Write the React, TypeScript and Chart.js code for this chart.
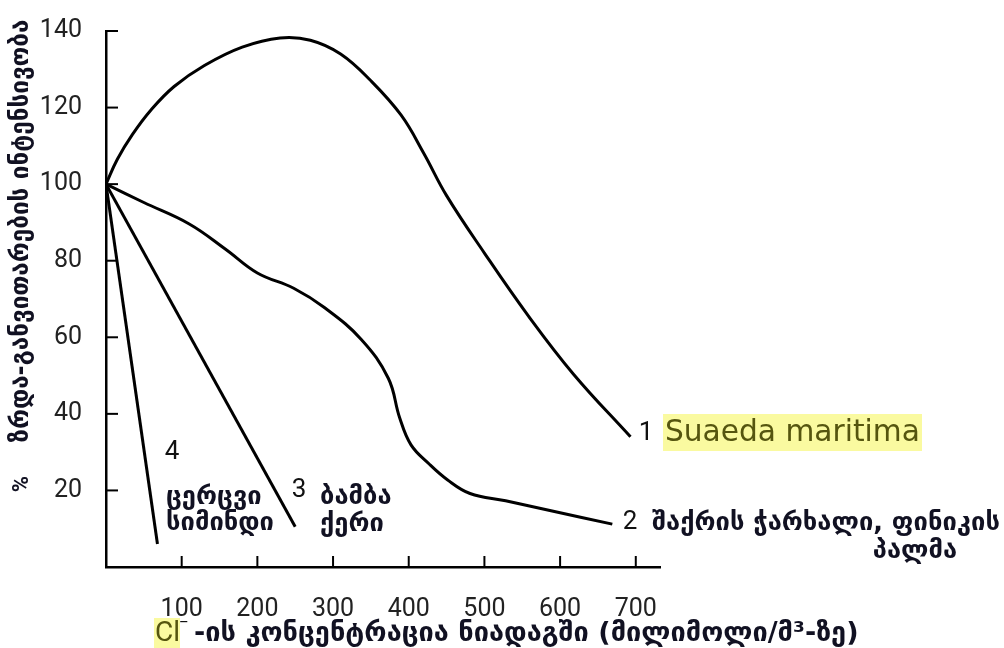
import React, { useEffect, useRef } from 'react';
import { Chart, registerables } from 'chart.js';

Chart.register(...registerables);

// ---- data ----
const xTickValues = [100, 200, 300, 400, 500, 600, 700];
const yTickValues = [20, 40, 60, 80, 100, 120, 140];

// 1 Suaeda maritima
const suaedaX = [0, 15, 35, 60, 90, 130, 180, 230, 270, 310, 350, 390, 420, 450, 500, 558, 618, 693];
const suaedaY = [100, 106.5, 113, 119.5, 125.5, 131, 135.8, 138.2, 137.6, 134, 127, 118, 108, 97, 82, 65.6, 50.3, 34];

// 2 sugar beet, date palm
const beetX = [0, 50, 110, 158, 200, 248, 289, 337, 373, 388, 403, 427, 451, 481, 528, 588, 669];
const beetY = [100, 95.2, 89.6, 83, 76.8, 72.8, 67.7, 59.5, 49.3, 39, 31.9, 26.9, 22.8, 19.2, 17.3, 14.7, 11.2];

// 3 cotton, barley
const cottonX = [0, 250];
const cottonY = [100, 10.5];

// 4 vetch, maize
const vetchX = [0, 68];
const vetchY = [100, 6];

const yTitle = 'ზრდა-განვითარების ინტენსივობა';
const xTitleRest = '-ის კონცენტრაცია ნიადაგში (მილიმოლი/მ³-ზე)';

const toPts = (xs: number[], ys: number[]) => xs.map((x, i) => ({ x, y: ys[i] }));

const GEO = '"DejaVu Sans", sans-serif';
const NUM = 'Roboto, "DejaVu Sans", sans-serif';
const INK = '#111122';
const OLIVE = '#55550f';
const HILITE = '#fafaa0';

function fitSize(ctx: CanvasRenderingContext2D, text: string, family: string, weight: string, target: number) {
  ctx.font = `${weight} 20px ${family}`;
  const w = ctx.measureText(text).width;
  return (20 * target) / w;
}

const annotationPlugin = {
  id: 'annotations',
  afterDraw(chart: any) {
    const ctx: CanvasRenderingContext2D = chart.ctx;
    const xs = chart.scales.x;
    const ys = chart.scales.y;
    const area = chart.chartArea;
    ctx.save();
    // inward tick marks
    ctx.strokeStyle = '#000';
    ctx.lineWidth = 2;
    yTickValues.forEach((v) => {
      const py = ys.getPixelForValue(v);
      ctx.beginPath();
      ctx.moveTo(area.left, py);
      ctx.lineTo(area.left + 12, py);
      ctx.stroke();
    });
    xTickValues.forEach((v) => {
      const px = xs.getPixelForValue(v);
      ctx.beginPath();
      ctx.moveTo(px, area.bottom);
      ctx.lineTo(px, area.bottom - 11);
      ctx.stroke();
    });

    // Georgian label font size (common)
    const labelSize = fitSize(ctx, 'შაქრის ჭარხალი, ფინიკის', GEO, 'bold', 348);
    const geoFont = `bold ${labelSize}px ${GEO}`;

    ctx.textBaseline = 'middle';

    // curve numbers
    ctx.fillStyle = '#111';
    ctx.font = `26px ${NUM}`;
    ctx.textAlign = 'center';
    ctx.fillText('4', 172, 452);
    ctx.fillText('3', 299, 490);
    ctx.fillText('1', 646, 433);
    ctx.fillText('2', 630, 522);

    // Georgian labels
    ctx.font = geoFont;
    ctx.fillStyle = INK;
    ctx.textAlign = 'left';
    ctx.fillText('ცერცვი', 166, 497);
    ctx.fillText('სიმინდი', 166, 523);
    ctx.fillText('ბამბა', 320, 497);
    ctx.fillText('ქერი', 320, 524);
    ctx.fillText('შაქრის ჭარხალი, ფინიკის', 652, 523);
    ctx.textAlign = 'center';
    ctx.fillText('პალმა', 915, 551);

    // Suaeda maritima highlighted
    ctx.fillStyle = HILITE;
    ctx.fillRect(663, 414, 259, 37);
    ctx.fillStyle = OLIVE;
    ctx.textAlign = 'left';
    const sSize = fitSize(ctx, 'Suaeda maritima', '"DejaVu Sans", sans-serif', 'normal', 255);
    ctx.font = `${sSize}px "DejaVu Sans", sans-serif`;
    ctx.fillText('Suaeda maritima', 665, 433);

    // y axis title (rotated)
    const tSize = fitSize(ctx, yTitle, GEO, 'bold', 423);
    ctx.save();
    ctx.translate(22, 231);
    ctx.rotate(-Math.PI / 2);
    ctx.font = `bold ${tSize}px ${GEO}`;
    ctx.fillStyle = INK;
    ctx.textAlign = 'center';
    ctx.fillText(yTitle, 0, 0);
    ctx.restore();
    ctx.save();
    ctx.translate(22, 484);
    ctx.rotate(-Math.PI / 2);
    ctx.font = `bold 22px ${NUM}`;
    ctx.fillStyle = INK;
    ctx.textAlign = 'center';
    ctx.fillText('%', 0, 0);
    ctx.restore();

    // x axis title
    ctx.fillStyle = HILITE;
    ctx.fillRect(154, 618, 26, 30);
    ctx.fillStyle = OLIVE;
    ctx.textAlign = 'left';
    ctx.font = `28px ${NUM}`;
    ctx.fillText('Cl', 155, 634);
    ctx.fillStyle = '#111';
    ctx.font = `bold 18px "DejaVu Sans", sans-serif`;
    ctx.fillText('⁻', 179, 626);
    const xSize = fitSize(ctx, xTitleRest, GEO, 'bold', 665);
    ctx.font = `bold ${xSize}px ${GEO}`;
    ctx.fillStyle = INK;
    ctx.fillText(xTitleRest, 194, 634);

    ctx.restore();
  },
};

export default function App() {
  const canvasRef = useRef<HTMLCanvasElement | null>(null);

  useEffect(() => {
    const canvas = canvasRef.current;
    if (!canvas) return;
    const lineStyle = {
      borderColor: '#000',
      borderWidth: 3,
      pointRadius: 0,
      fill: false,
    };
    const chart = new Chart(canvas, {
      type: 'line',
      data: {
        datasets: [
          { ...lineStyle, label: '1', data: toPts(suaedaX, suaedaY), tension: 0.4 },
          { ...lineStyle, label: '2', data: toPts(beetX, beetY), tension: 0.4 },
          { ...lineStyle, label: '3', data: toPts(cottonX, cottonY), tension: 0 },
          { ...lineStyle, label: '4', data: toPts(vetchX, vetchY), tension: 0 },
        ],
      },
      options: {
        animation: false,
        responsive: false,
        maintainAspectRatio: false,
        layout: { padding: { left: 0, right: 344, top: 22, bottom: 0 } },
        plugins: {
          legend: { display: false },
          tooltip: { enabled: false },
        },
        scales: {
          x: {
            type: 'linear',
            min: 0,
            max: 732,
            grid: { display: false },
            border: { display: true, color: '#000', width: 2.5 },
            afterBuildTicks: (s: any) => {
              s.ticks = xTickValues.map((v) => ({ value: v }));
            },
            afterFit: (s: any) => {
              s.height = 648 - 567;
            },
            ticks: {
              color: '#222',
              font: { family: NUM, size: 25 },
              padding: 20,
              maxRotation: 0,
              autoSkip: false,
            },
          },
          y: {
            type: 'linear',
            min: 0,
            max: 140,
            grid: { display: false },
            border: { display: true, color: '#000', width: 2.5 },
            afterBuildTicks: (s: any) => {
              s.ticks = yTickValues.map((v) => ({ value: v }));
            },
            afterFit: (s: any) => {
              s.width = 106;
            },
            ticks: {
              color: '#222',
              font: { family: NUM, size: 25 },
              padding: 16,
              autoSkip: false,
            },
          },
        },
      },
      plugins: [annotationPlugin],
    });
    return () => chart.destroy();
  }, []);

  return (
    <div style={{ position: 'fixed', left: 0, top: 0, width: 1004, height: 648, background: '#fff' }}>
      <canvas ref={canvasRef} width={1004} height={648} style={{ width: 1004, height: 648, display: 'block' }} />
    </div>
  );
}
